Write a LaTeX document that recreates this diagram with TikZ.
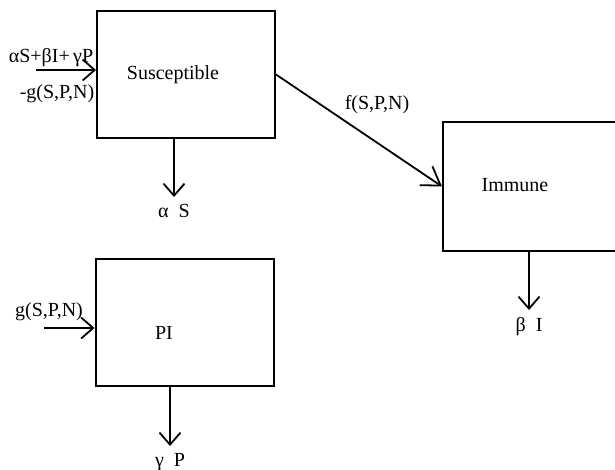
\documentclass[tikz,border=0pt]{standalone}
\usepackage{fontspec}
\setmainfont{Liberation Serif}
\usetikzlibrary{positioning,arrows.meta}

\begin{document}
\begin{tikzpicture}[x=0.5pt, y=-0.5pt, font=\fontsize{10}{12}\selectfont,
    caja/.style={draw, line width=1pt, minimum width=89pt, minimum height=63.5pt, inner sep=0pt},
    flujo/.style={line width=0.9pt, -{Straight Barb[length=6pt,width=10.5pt]}},
    flujolargo/.style={line width=0.9pt, -{Straight Barb[length=8.8pt,width=11.4pt]}}]
  \useasboundingbox (0,0) rectangle (615,470);
  % compartimentos
  \node[caja] (sus) at (186,74.5) {};
  \node[caja, minimum width=88pt, minimum height=64.5pt] (imm) at (531,186.5) {};
  \node[caja] (pi) at (184.5,322.5) {};
  \node (susT) at (173,75) {Susceptible};
  \node (immT) at (515,185) {Immune};
  \node (piT) at (164,333) {PI};
  % entradas
  \coordinate (susIn) at (36,70);
  \coordinate (piIn) at (44,328);
  \draw[flujo] (susIn) -- (susIn -| sus.west);
  \draw[flujo] (piIn) -- (piIn -| pi.west);
  \node (susInA) at (51,58) {αS+βI+\,γP};
  \node (susInB) at (57,94) {-g(S,P,N)};
  \node (piInA) at (49,312) {g(S,P,N)};
  % paso a inmunes
  \draw[flujolargo] (sus.east) -- (imm.west);
  \node (fLab) at (377,105) {f(S,P,N)};
  % salidas
  \node[anchor=north] (aS) at (174,197) {α\enspace S};
  \node[anchor=north] (bI) at (529,310) {β\enspace I};
  \node[anchor=north] (gP) at (170,446) {γ\enspace P};
  \draw[flujo] (sus.south -| aS.north) -- (aS.north);
  \draw[flujo] (imm.south -| bI.north) -- (bI.north);
  \draw[flujo] (pi.south -| gP.north) -- (gP.north);
\end{tikzpicture}
\end{document}
